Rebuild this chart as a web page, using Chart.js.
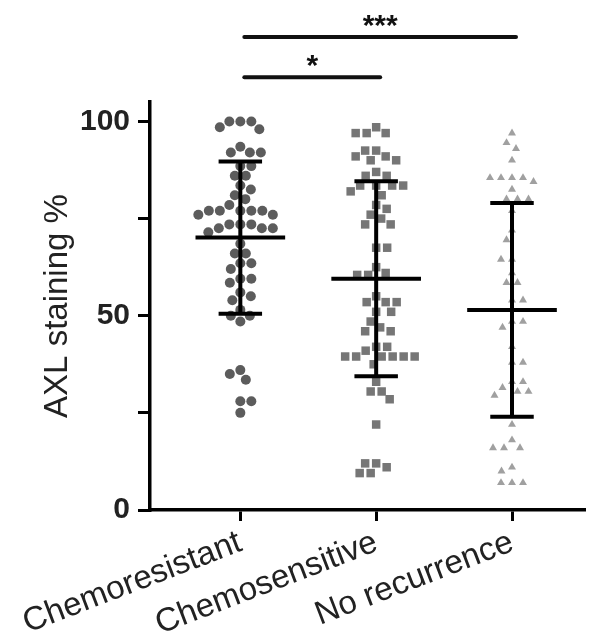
<!DOCTYPE html>
<html>
<head>
<meta charset="utf-8">
<script src="https://cdn.jsdelivr.net/npm/chart.js@4.4.1/dist/chart.umd.min.js"></script>
<style>
  html, body { margin: 0; padding: 0; background: #fff; }
  #wrap { width: 590px; height: 638px; }
</style>
</head>
<body>
<div id="wrap"><canvas id="axlChart"></canvas></div>
<script>
// values
const categories = ['Chemoresistant', 'Chemosensitive', 'No recurrence'];
const chemoresistant = [100, 100, 98, 98.5, 100, 93.5, 92, 92, 92, 88.5, 88.5, 86, 86, 83.5, 82.5, 81, 80, 78.5,
  77, 77, 77, 77, 77, 76, 76, 73.5, 73.5, 73.5, 72.5, 72.5, 72.5, 71.5, 68.5, 66, 66, 63.5, 63.5, 62,
  59.5, 59.5, 58.5, 56, 55, 54, 51.5, 50, 50, 48.5, 36, 35, 33.5, 28, 28, 25];
const chemosensitive = [98.5, 97, 97, 97, 92.5, 92.5, 91, 91, 90, 90, 87, 86, 86, 83.5, 83.5, 83.5, 83.5, 82, 81,
  78.5, 77.5, 76, 75, 73.5, 73.5, 67.5, 67.5, 62.5, 61, 60.5, 60.5, 55, 53.5, 53.5, 53.5, 51, 51, 48.5, 47,
  46, 46, 42, 42, 41, 39.5, 39.5, 39.5, 39.5, 39.5, 39.5, 37.5, 33, 30.5, 30.5, 28.5, 22, 12, 12, 11, 9.5, 9.5];
const noRecurrence = [97, 94.5, 93, 90, 85.5, 85.5, 85.5, 85.5, 84.5, 82.5, 80, 80, 80, 77, 72, 69.5, 64.5, 64.5,
  61, 58.5, 58.5, 54, 54, 48.5, 48.5, 47, 42, 38, 38, 33, 33, 31.5, 30.5, 30.5, 29.5, 22, 18, 16, 16, 16,
  11, 10, 7, 7, 7];
const means = [70.1, 59.5, 51.5];
const sds = [19.6, 25.1, 27.5];
const yTicks = [0, 25, 50, 75, 100];
const yLabelled = [0, 50, 100];
const sigFrom = [1, 1];
const sigTo = [2, 3];
const sigText = ['*', '***'];

const groups = [chemoresistant, chemosensitive, noRecurrence];
const shapes = ['circle', 'rect', 'triangle'];
const sizes = [5, 6, 4.6];
const colors = ['#5c5c5c', '#767676', '#a0a0a0'];
const FONT = '"Liberation Sans", Arial, sans-serif';

// simple beeswarm: offsets in pixels, smallest |offset| without overlap
function swarm(values, pxX, pxY, d){
  const placed = [];
  const offs = new Array(values.length);
  const order = values.map((v, i) => i).sort((a, b) => values[b] - values[a]);
  order.forEach((i, n) => {
    const y = values[i] * pxY;
    const sign = n % 2 ? -1 : 1;
    let best = 0;
    for(let k = 0; k < 400; k++){
      const cands = k === 0 ? [0] : [sign * k * 0.5, -sign * k * 0.5];
      const hit = cands.find(c => placed.every(p => Math.hypot(p.x - c, p.y - y) >= d));
      if(hit !== undefined){ best = hit; break; }
    }
    placed.push({ x: best, y: y });
    offs[i] = best / pxX;
  });
  return offs;
}

function errorBar(c, m, s){
  const gap = { x: c, y: null };
  return [
    { x: c - 0.33, y: m }, { x: c + 0.33, y: m }, gap,
    { x: c, y: m - s }, { x: c, y: m + s }, gap,
    { x: c - 0.16, y: m + s }, { x: c + 0.16, y: m + s }, gap,
    { x: c - 0.16, y: m - s }, { x: c + 0.16, y: m - s }
  ];
}

const sigPlugin = {
  id: 'sig',
  afterDraw(chart){
    const { ctx, scales: { x, y } } = chart;
    const levels = [111.4, 121.7];
    ctx.save();
    ctx.strokeStyle = '#111';
    ctx.fillStyle = '#111';
    ctx.lineWidth = 4;
    ctx.lineCap = 'round';
    ctx.textAlign = 'center';
    ctx.textBaseline = 'middle';
    ctx.font = 'bold 30px ' + FONT;
    sigFrom.forEach((f, i) => {
      const x1 = x.getPixelForValue(f) + 4;
      const x2 = x.getPixelForValue(sigTo[i]) + 4;
      const yy = y.getPixelForValue(levels[i]);
      ctx.beginPath();
      ctx.moveTo(x1, yy);
      ctx.lineTo(x2, yy);
      ctx.stroke();
      ctx.fillText(sigText[i], (x1 + x2) / 2, yy - 10);
    });
    ctx.restore();
  }
};

const datasets = [];
groups.forEach((vals, g) => {
  datasets.push({
    type: 'scatter',
    data: vals.map(v => ({ x: g + 1, y: v })),
    pointStyle: shapes[g],
    pointRadius: sizes[g],
    pointBackgroundColor: colors[g],
    pointBorderWidth: 0,
    order: 2
  });
});
groups.forEach((vals, g) => {
  datasets.push({
    type: 'line',
    data: errorBar(g + 1, means[g], sds[g]),
    borderColor: '#000',
    borderWidth: 4,
    borderCapStyle: 'butt',
    pointRadius: 0,
    spanGaps: false,
    order: 1
  });
});

const ctx = document.getElementById('axlChart').getContext('2d');
const chart = new Chart(ctx, {
  type: 'scatter',
  data: { datasets: datasets },
  plugins: [sigPlugin],
  options: {
    responsive: true,
    maintainAspectRatio: false,
    animation: false,
    layout: { padding: { left: 36, top: 102, right: 0, bottom: 0 } },
    plugins: { legend: { display: false }, tooltip: { enabled: false } },
    scales: {
      x: {
        type: 'linear',
        min: 0.335,
        max: 3.53,
        afterFit: (s) => { s.height = 128; s.paddingLeft = 0; s.paddingRight = 0; },
        afterBuildTicks: (s) => { s.ticks = [1, 2, 3].map(v => ({ value: v })); },
        border: { display: true, color: '#000', width: 3.5 },
        grid: { display: true, drawOnChartArea: false, drawTicks: true, tickLength: 11, color: '#000', lineWidth: 3 },
        ticks: {
          autoSkip: false,
          minRotation: 21,
          maxRotation: 21,
          padding: 2,
          color: '#222',
          font: { family: FONT, size: 33 },
          callback: (v) => categories[v - 1]
        }
      },
      y: {
        min: 0,
        max: 105,
        afterFit: (s) => { s.width = 114; },
        afterBuildTicks: (s) => { s.ticks = yTicks.map(v => ({ value: v })); },
        border: { display: true, color: '#000', width: 3.5 },
        grid: { display: true, drawOnChartArea: false, drawTicks: true, tickLength: 12, color: '#000', lineWidth: 3 },
        ticks: {
          padding: 8,
          color: '#222',
          font: { family: FONT, size: 30, weight: 'bold' },
          callback: (v) => yLabelled.includes(v) ? v : ''
        },
        title: {
          display: true,
          text: 'AXL staining %',
          color: '#222',
          padding: { top: 2, bottom: 4 },
          font: { family: FONT, size: 33 }
        }
      }
    }
  }
});

// spread the dots sideways once the scales are known
const pxX = Math.abs(chart.scales.x.getPixelForValue(1) - chart.scales.x.getPixelForValue(0));
const pxY = Math.abs(chart.scales.y.getPixelForValue(1) - chart.scales.y.getPixelForValue(0));
groups.forEach((vals, g) => {
  const offs = swarm(vals, pxX, pxY, 11);
  chart.data.datasets[g].data = vals.map((v, i) => ({ x: g + 1 + offs[i], y: v }));
});
chart.update('none');
</script>
</body>
</html>
